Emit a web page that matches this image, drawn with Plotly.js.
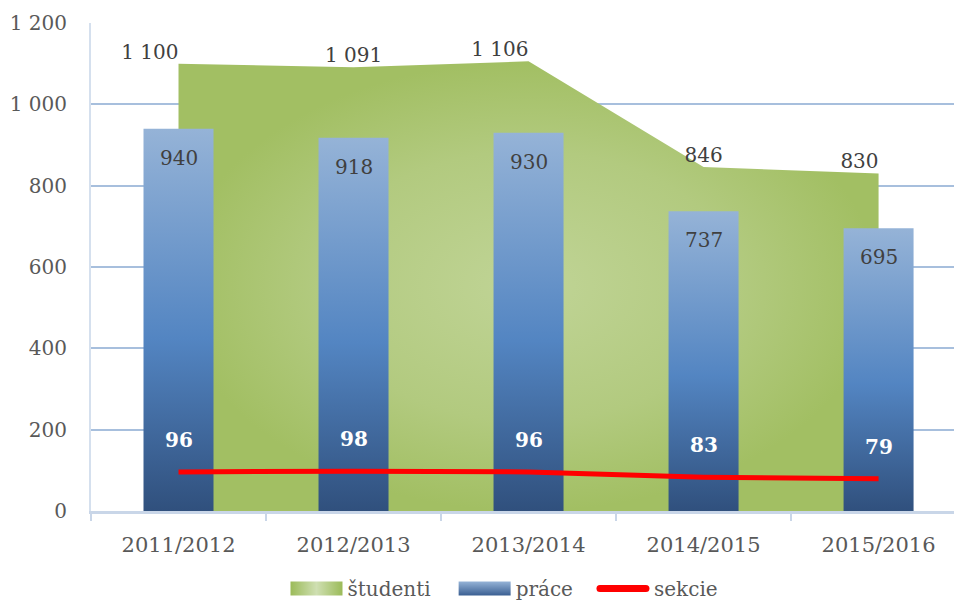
<!DOCTYPE html>
<html>
<head>
<meta charset="utf-8">
<script src="https://cdn.plot.ly/plotly-3.0.1.min.js"></script>
<style>
html,body{margin:0;padding:0;background:#fff;}
#chart{width:954px;height:600px;}
</style>
</head>
<body>
<div id="chart"></div>
<script>
// ---- data ----
const years = ['2011/2012', '2012/2013', '2013/2014', '2014/2015', '2015/2016'];
const studenti = [1100, 1091, 1106, 846, 830];
const prace = [940, 918, 930, 737, 695];
const sekcie = [96, 98, 96, 83, 79];
const studentiLabelPos = ['top left', 'top center', 'top left', 'top center', 'top left'];

const FONT = 'DejaVu Serif, Liberation Serif, serif';
const TXT = '#404040';

const fmt = v => String(v).replace(/\B(?=(\d{3})+(?!\d))/g, ' ');

const traces = [
  {
    type: 'scatter', name: 'študenti', x: years, y: studenti,
    xaxis: 'x', yaxis: 'y',
    mode: 'lines+text', line: {width: 0, color: '#9bbb59'},
    fill: 'tozeroy', fillcolor: '#b5cc80',
    fillgradient: {type: 'radial', colorscale: [[0, '#c0d496'], [0.6, '#b2ca7f'], [1, '#a2bf63']]},
    text: studenti.map(fmt), textposition: studentiLabelPos,
    textfont: {family: FONT, size: 20, color: TXT},
    hoverinfo: 'skip'
  },
  {
    type: 'bar', name: 'práce', x: years, y: prace,
    xaxis: 'x2', yaxis: 'y2',
    width: 0.4, marker: {color: '#4f81bd', line: {width: 0}},
    hoverinfo: 'skip'
  },
  {
    type: 'scatter', name: 'sekcie', x: years, y: sekcie,
    xaxis: 'x2', yaxis: 'y2',
    mode: 'lines', line: {color: '#ff0000', width: 5},
    hoverinfo: 'skip'
  }
];

const annotations = [];
years.forEach((yr, i) => {
  annotations.push({
    x: yr, y: prace[i], xref: 'x2', yref: 'y2', text: fmt(prace[i]),
    showarrow: false, yshift: -29,
    font: {family: FONT, size: 20, color: TXT}
  });
  annotations.push({
    x: yr, y: sekcie[i], xref: 'x2', yref: 'y2', text: '<b>' + sekcie[i] + '</b>',
    showarrow: false, yshift: 32,
    font: {family: FONT, size: 20, color: '#ffffff'}
  });
});

const xr = [-0.5, 4.431];
const layout = {
  width: 954, height: 600,
  margin: {l: 91, r: 0, t: 23, b: 89},
  paper_bgcolor: '#ffffff', plot_bgcolor: '#ffffff',
  separators: ', ',
  font: {family: FONT, size: 20, color: TXT},
  showlegend: true,
  legend: {
    orientation: 'h', xref: 'container', yref: 'container',
    x: 0.511, xanchor: 'center', y: 0.0, yanchor: 'bottom',
    bgcolor: 'rgba(0,0,0,0)',
    font: {family: FONT, size: 20, color: '#595959'},
    traceorder: 'normal', itemwidth: 50
  },
  xaxis: {
    type: 'category', range: xr,
    showgrid: false, zeroline: false,
    showline: true, linecolor: '#c9d6e8', linewidth: 3,
    ticks: 'outside', tickson: 'boundaries', ticklen: 7, tickcolor: '#c9d6e8', tickwidth: 2,
    tickfont: {family: FONT, size: 21, color: '#595959'},
    ticklabelstandoff: 13
  },
  yaxis: {
    range: [0, 1200], dtick: 200, tick0: 0,
    showgrid: true, gridcolor: '#a7bfdd', gridwidth: 2,
    zeroline: false, showline: true, linecolor: '#d5e0ee', linewidth: 2,
    ticks: '', tickformat: ',d',
    tickfont: {family: FONT, size: 20, color: '#595959'},
    ticklabelstandoff: 18
  },
  xaxis2: {type: 'category', range: xr, overlaying: 'x', anchor: 'y2', visible: false},
  yaxis2: {range: [0, 1200], overlaying: 'y', anchor: 'x2', visible: false},
  annotations: annotations
};

const NS = 'http://www.w3.org/2000/svg';
function addGrad(defs, id, vertical, stops) {
  const g = document.createElementNS(NS, 'linearGradient');
  g.setAttribute('id', id);
  g.setAttribute('x1', '0'); g.setAttribute('y1', '0');
  g.setAttribute('x2', vertical ? '0' : '1'); g.setAttribute('y2', vertical ? '1' : '0');
  stops.forEach(([o, c]) => {
    const s = document.createElementNS(NS, 'stop');
    s.setAttribute('offset', o); s.setAttribute('stop-color', c);
    g.appendChild(s);
  });
  defs.appendChild(g);
}
function parseT(el) {
  const m = /translate\(\s*([-\d.e]+)[ ,]+([-\d.e]+)\s*\)/.exec(el.getAttribute('transform') || '');
  return m ? [parseFloat(m[1]), parseFloat(m[2])] : [0, 0];
}

Plotly.newPlot('chart', traces, layout, {displayModeBar: false, staticPlot: true}).then(gd => {
  const svg = gd.querySelector('svg.main-svg');
  let defs = svg.querySelector('defs');
  if (!defs) { defs = document.createElementNS(NS, 'defs'); svg.insertBefore(defs, svg.firstChild); }
  addGrad(defs, 'barGrad', true, [['0', '#95b3d7'], ['0.55', '#5385c2'], ['1', '#30507d']]);
  addGrad(defs, 'legBarGrad', true, [['0', '#95b3d7'], ['1', '#3a5f92']]);
  addGrad(defs, 'legGreenGrad', false, [['0', '#9bbb59'], ['0.5', '#cfdfb2'], ['1', '#9bbb59']]);
  gd.querySelectorAll('.barlayer .point path').forEach(p => { p.style.fill = 'url(#barGrad)'; });

  const rect = 'M3,-7h52v14h-52z';
  const extra = [0, 20, 36];
  gd.querySelectorAll('.legend [clip-path]').forEach(e => e.removeAttribute('clip-path'));
  gd.querySelectorAll('.legend .traces').forEach((t, i) => {
    const name = t.textContent;
    const [tx, ty] = parseT(t);
    t.setAttribute('transform', 'translate(' + (tx + (extra[i] || 0)) + ',' + (ty + 8) + ')');
    if (name.indexOf('sekcie') >= 0) {
      t.querySelectorAll('.legendlines path').forEach(p => {
        p.setAttribute('d', 'M6,0h46');
        p.style.strokeWidth = '7px';
        p.style.strokeLinecap = 'round';
      });
    } else if (name.indexOf('práce') >= 0) {
      t.querySelectorAll('.legendpoints path, .legendsymbols path').forEach(p => {
        p.setAttribute('d', rect); p.setAttribute('transform', '');
        p.style.fill = 'url(#legBarGrad)'; p.style.stroke = 'none';
      });
    } else {
      t.querySelectorAll('.legendfill path').forEach(p => {
        p.setAttribute('d', rect); p.style.fill = 'url(#legGreenGrad)'; p.style.stroke = 'none';
      });
      t.querySelectorAll('.legendlines path').forEach(p => { p.style.display = 'none'; });
    }
  });
});
</script>
</body>
</html>
